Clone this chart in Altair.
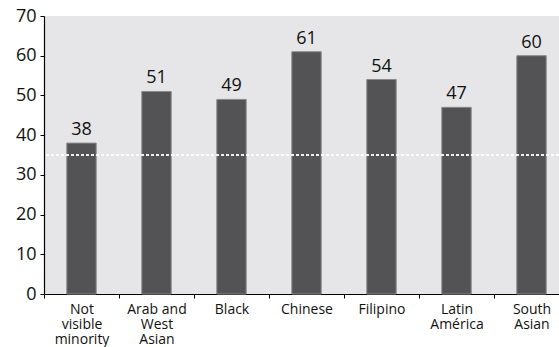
import altair as alt
import pandas as pd

# Share of each group (%), by visible minority status
categories = [
    "Not\nvisible\nminority",
    "Arab and\nWest\nAsian",
    "Black",
    "Chinese",
    "Filipino",
    "Latin\nAmérica",
    "South\nAsian",
]
values = [38, 51, 49, 61, 54, 47, 60]
reference_value = 35
y_ticks = [0, 10, 20, 30, 40, 50, 60, 70]

FONT = "Open Sans"
PAD_INNER = 0.608

x_enc = alt.X(
    "group:N",
    sort=categories,
    scale=alt.Scale(range=[0, 525], paddingInner=PAD_INNER, paddingOuter=PAD_INNER / 2),
    axis=alt.Axis(
        title=None,
        labelAngle=0,
        labelExpr="split(datum.label, '\\n')",
        labelFont=FONT,
        labelFontSize=14,
        labelLineHeight=15,
        labelColor="#111111",
        labelPadding=4,
        labelBaseline="top",
        tickOffset=-37.5,
        labelOffset=37.5,
        ticks=True,
        tickSize=4,
        tickColor="#000000",
        domainColor="#000000",
        domainWidth=1.2,
        grid=False,
        labelOverlap=False,
    ),
)

y_enc = alt.Y(
    "value:Q",
    scale=alt.Scale(domain=[0, 70], nice=False),
    axis=alt.Axis(
        title=None,
        values=y_ticks,
        tickCount=8,
        labelFont=FONT,
        labelFontSize=18,
        labelColor="#111111",
        labelPadding=4,
        labelOverlap=False,
        tickSize=4,
        tickColor="#000000",
        domainColor="#000000",
        domainWidth=1.2,
        grid=False,
    ),
)

df = pd.DataFrame({"group": categories, "value": values})
ref_df = pd.DataFrame({"value": [reference_value]})

bars = alt.Chart(df).mark_bar(
    color="#535355", stroke="#8a8a8c", strokeWidth=1
).encode(x=x_enc, y=y_enc)

labels = alt.Chart(df).mark_text(
    baseline="alphabetic", dy=-8, font=FONT, fontSize=18, color="#111111"
).encode(x=x_enc, y=y_enc, text="value:Q")

ref_line = alt.Chart(ref_df).mark_rule(
    color="#ffffff", strokeWidth=2, strokeDash=[3, 2], opacity=0.9
).encode(y=y_enc)

chart = (
    alt.layer(bars, ref_line, labels)
    .properties(
        width=515,
        height=278,
        autosize=alt.AutoSizeParams(type="none"),
        padding={"left": 44, "top": 16, "right": 0, "bottom": 53},
        background="#ffffff",
    )
    .configure_view(fill="#e6e6e8", stroke=None)
)

chart.save("out.html", embed_options={"renderer": "svg", "actions": False})
